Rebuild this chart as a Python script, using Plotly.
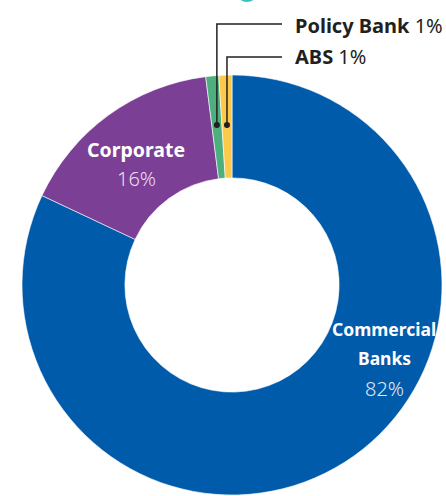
import math
import plotly.graph_objects as go

# ---- data ----
labels = ["Commercial Banks", "Corporate", "Policy Bank", "ABS"]
values = [82, 16, 1, 1]
colors = ["#005BAA", "#7B3F96", "#4CAF7D", "#FCC94B"]

W, H = 446, 496
CX, CY, R = 232, 285, 210
HOLE = 0.51
FONT = "Noto Sans"
DARK = "#231F20"

fig = go.Figure()
fig.add_trace(go.Pie(
    labels=labels, values=values, sort=False, direction="clockwise", rotation=0,
    hole=HOLE, textinfo="none", hoverinfo="label+percent",
    marker=dict(colors=colors, line=dict(color="white", width=0.6)),
    domain=dict(x=[(CX - R) / W, (CX + R) / W], y=[1 - (CY + R) / H, 1 - (CY - R) / H]),
    showlegend=False,
))

# slice mid angles (clockwise from 12 o'clock) computed from data
total = sum(values)
mids = []
acc = 0
for v in values:
    mids.append((acc + v / 2) / total * 360)
    acc += v


def px(x):
    return x / W


def py(y):
    return 1 - y / H


shapes = []
annotations = []


def text(x, y, s, size, color, anchor="center", weight=None):
    f = dict(family=FONT, size=size, color=color)
    if weight is not None:
        f["weight"] = weight
    annotations.append(dict(xref="paper", yref="paper", x=px(x), y=py(y), xanchor=anchor,
                            yanchor="middle", showarrow=False, text=s, font=f))


# leader lines for small slices
label_rows = {"Policy Bank": 24, "ABS": 57}
text_rows = {"Policy Bank": 26, "ABS": 57}
x_end = 282
for i, lab in enumerate(labels):
    if lab not in label_rows:
        continue
    a = math.radians(mids[i])
    dy = 160
    dx = dy * math.tan(a)
    x0, y0 = CX + dx, CY - dy
    yr = label_rows[lab]
    shapes.append(dict(type="path", xref="paper", yref="paper",
                       path=f"M {px(x0)},{py(y0)} L {px(x0)},{py(yr)} L {px(x_end)},{py(yr)}",
                       line=dict(color=DARK, width=1.5)))
    rr = 3
    shapes.append(dict(type="circle", xref="paper", yref="paper",
                       x0=px(x0 - rr), x1=px(x0 + rr), y0=py(y0 + rr), y1=py(y0 - rr),
                       fillcolor=DARK, line=dict(width=0)))
    text(293, text_rows[lab], f"<b>{lab}</b> {values[i]}%", 20, DARK, anchor="left")

# inside labels
text(384, 329, "<b>Commercial</b>", 17.5, "white")
text(384, 358, "<b>Banks</b>", 17.5, "white")
text(384, 388, f"{values[0]}%", 20, "#E3E9F3", weight=300)
text(136, 149, "<b>Corporate</b>", 19.5, "white")
text(136, 179, f"{values[1]}%", 20, "#E9DDF0", weight=300)

# teal marker partially visible at top
shapes.append(dict(type="circle", xref="paper", yref="paper",
                   x0=px(247 - 11.5), x1=px(247 + 11.5), y0=py(-9.5 + 11.5), y1=py(-9.5 - 11.5),
                   fillcolor="#3DBFC6", line=dict(width=0)))

fig.update_layout(width=W, height=H, margin=dict(l=0, r=0, t=0, b=0),
                  paper_bgcolor="white", plot_bgcolor="white",
                  shapes=shapes, annotations=annotations)
fig.write_html("out.html", config={"displayModeBar": False},
               post_script="document.body.style.margin='0';")
